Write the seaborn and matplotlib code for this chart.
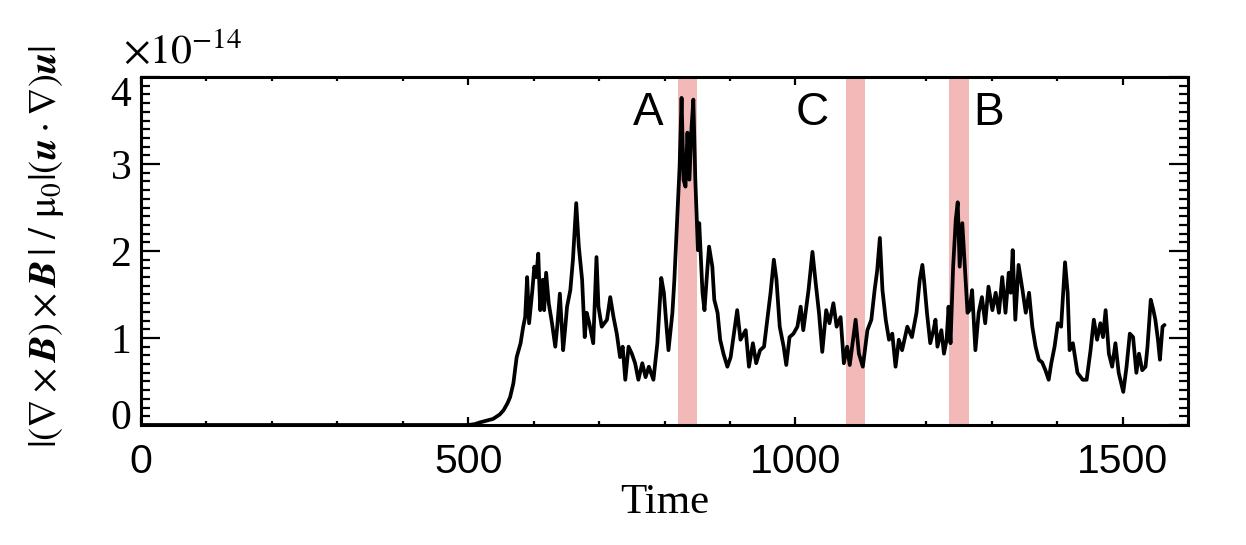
import numpy as np
import pandas as pd
import matplotlib
matplotlib.use('Agg')
import matplotlib.pyplot as plt
import matplotlib.transforms as mtransforms
import seaborn as sns
from matplotlib.ticker import MultipleLocator

# data (units of 1e-14)
time = [0, 500, 510, 518, 528, 538, 548, 554, 560, 564, 569, 574, 580, 584, 587, 590, 593, 598,
        601, 604, 607, 610, 614, 616, 619, 623, 628, 633, 636, 640, 645, 648, 651, 656, 660, 665,
        669, 674, 678, 681, 685, 691, 696, 699, 704, 712, 717, 722, 727, 732, 736, 740, 745, 750,
        755, 760, 766, 771, 776, 783, 789, 795, 799, 803, 806, 812, 815, 819, 823, 826, 829, 832,
        835, 838, 841, 844, 847, 851, 853, 858, 861, 865, 868, 873, 876, 881, 885, 890, 896, 901,
        906, 911, 916, 924, 929, 935, 940, 946, 952, 957, 962, 967, 971, 976, 982, 986, 991, 997,
        1003, 1008, 1012, 1020, 1026, 1031, 1036, 1041, 1047, 1052, 1058, 1063, 1069, 1074, 1079,
        1083, 1088, 1092, 1097, 1103, 1110, 1116, 1121, 1125, 1129, 1133, 1138, 1143, 1148, 1153,
        1158, 1163, 1171, 1178, 1185, 1190, 1194, 1197, 1201, 1206, 1211, 1214, 1217, 1223, 1227,
        1231, 1234, 1237, 1241, 1245, 1248, 1251, 1255, 1258, 1263, 1266, 1270, 1275, 1280, 1285,
        1290, 1295, 1301, 1306, 1311, 1316, 1321, 1326, 1329, 1332, 1336, 1341, 1347, 1352, 1357,
        1362, 1367, 1372, 1377, 1382, 1387, 1391, 1396, 1401, 1406, 1412, 1416, 1419, 1424, 1431,
        1439, 1445, 1451, 1456, 1461, 1466, 1470, 1474, 1479, 1484, 1489, 1494, 1501, 1506, 1511,
        1516, 1521, 1525, 1530, 1535, 1538, 1543, 1547, 1550, 1554, 1557, 1561, 1564]
ratio = [0, 0, 0.01, 0.03, 0.05, 0.07, 0.12, 0.17, 0.25, 0.32, 0.48, 0.78, 0.94, 1.13, 1.24, 1.70, 1.17, 1.55,
         1.82, 1.70, 1.97, 1.32, 1.67, 1.32, 1.75, 1.40, 1.17, 0.90, 1.13, 1.51, 0.86, 1.10, 1.36, 1.55, 1.90, 2.55,
         2.05, 1.67, 1.01, 1.29, 1.17, 0.94, 1.93, 1.36, 1.13, 1.21, 1.47, 1.24, 1.05, 0.78, 0.90, 0.52, 0.90, 0.82,
         0.71, 0.52, 0.71, 0.55, 0.67, 0.52, 0.94, 1.69, 1.52, 1.13, 0.86, 1.29, 1.67, 2.32, 2.97, 3.76, 2.82, 2.74,
         3.36, 2.82, 3.39, 3.74, 2.82, 2.01, 2.32, 1.52, 1.32, 1.75, 2.05, 1.82, 1.44, 1.29, 0.98, 0.82, 0.67, 0.78,
         1.05, 1.32, 0.98, 1.09, 0.67, 0.94, 0.71, 0.86, 0.90, 1.21, 1.52, 1.90, 1.67, 1.13, 0.90, 0.69, 1.01, 1.05,
         1.13, 1.36, 1.09, 1.55, 1.99, 1.63, 1.29, 0.84, 1.32, 1.17, 1.40, 1.13, 1.24, 0.71, 0.90,
         0.69, 0.98, 1.21, 0.82, 0.67, 1.09, 1.21, 1.55, 1.78, 2.15, 1.55, 1.21, 0.98, 1.05, 0.67,
         0.98, 0.86, 1.13, 1.01, 1.29, 1.67, 1.84, 1.63, 1.29, 0.94, 1.09, 1.21, 0.90, 1.09, 0.82,
         0.98, 1.36, 0.94, 1.82, 2.36, 2.56, 1.82, 2.32, 1.93, 1.29, 1.32, 1.55, 0.86, 1.29, 1.47,
         1.17, 1.59, 1.32, 1.52, 1.29, 1.70, 1.29, 1.75, 1.52, 2.01, 1.21, 1.84, 1.55, 1.29, 1.52,
         1.13, 0.90, 0.75, 0.72, 0.63, 0.52, 0.71, 0.90, 1.17, 1.13, 1.87, 1.52, 0.86, 0.94, 0.60,
         0.52, 0.52, 0.86, 1.21, 0.98, 1.17, 1.01, 1.32, 0.82, 0.67, 0.94, 0.60, 0.38, 0.67, 1.05,
         1.01, 0.60, 0.82, 0.63, 0.67, 0.90, 1.44, 1.32, 1.21, 0.98, 0.75, 1.13, 1.15]

band_labels = ['A', 'C', 'B']
band_start = [820, 1077, 1234]
band_end = [850, 1107, 1265]
label_time = [775, 1026, 1295]

df = pd.DataFrame({'Time': time, 'ratio': ratio})

sns.set_style('ticks')
plt.rcParams['font.family'] = ['Liberation Serif', 'DejaVu Serif']
plt.rcParams['mathtext.fontset'] = 'stix'
plt.rcParams['axes.linewidth'] = 2.2
for k in ['text.color', 'axes.labelcolor', 'xtick.color', 'ytick.color', 'axes.edgecolor']:
    plt.rcParams[k] = 'black'

fig = plt.figure(figsize=(12.46, 5.45), dpi=100)
ax = fig.add_axes([0.1132, 0.2202, 0.8403, 0.6385])

for s, e in zip(band_start, band_end):
    ax.axvspan(s, e, color='#f2b9b8', lw=0, zorder=1)

sns.lineplot(data=df, x='Time', y='ratio', ax=ax, color='black', lw=2.7, zorder=3)

for lab, t in zip(band_labels, label_time):
    ax.text(t, 3.59, lab, fontsize=33, family='Liberation Sans', ha='center', va='center')

ax.set_xlim(0, 1600)
ax.set_ylim(0, 4.0)
ax.xaxis.set_major_locator(MultipleLocator(500))
ax.xaxis.set_minor_locator(MultipleLocator(100))
ax.yaxis.set_major_locator(MultipleLocator(1))
ax.yaxis.set_minor_locator(MultipleLocator(0.1))
ax.tick_params(axis='both', which='both', direction='in', top=True, right=True, width=1.6)
ax.tick_params(axis='x', which='major', length=6, labelsize=29.5, pad=13)
ax.tick_params(axis='x', which='minor', length=3)
ax.tick_params(axis='y', which='major', length=14, labelsize=30, pad=7)
ax.tick_params(axis='y', which='minor', length=6.5)
for lab in ax.get_xticklabels():
    lab.set_family('Liberation Sans')

ax.set_xlabel('Time', fontsize=31, labelpad=2)
ylab = ax.set_ylabel(r'$|(\nabla\times\mathbfit{B})\times\mathbfit{B}\,|\ /\ \mathrm{\mu}_0|(\mathbfit{u}\cdot\nabla)\mathbfit{u}|$',
                     fontsize=27)
fig.text(0.099, 0.8844, r'$\times10^{-14}$', fontsize=30, ha='left', va='baseline')

# size the y label so it spans about 403 px, as in the original
fig.canvas.draw()
h = ylab.get_window_extent(fig.canvas.get_renderer()).height
ylab.set_fontsize(27 * 403 / h)
ax.yaxis.set_label_coords(-0.0716, 0.513)

# IDL-style: the end labels are pulled inside the axis range
shifts = {0: 8, 4: -10}
for tk in ax.yaxis.get_major_ticks():
    for loc, dy in shifts.items():
        if abs(tk.get_loc() - loc) < 1e-9:
            tk.label1.set_transform(tk.label1.get_transform()
                                    + mtransforms.ScaledTranslation(0, dy / 72, fig.dpi_scale_trans))

fig.savefig('out.png', dpi=100)
